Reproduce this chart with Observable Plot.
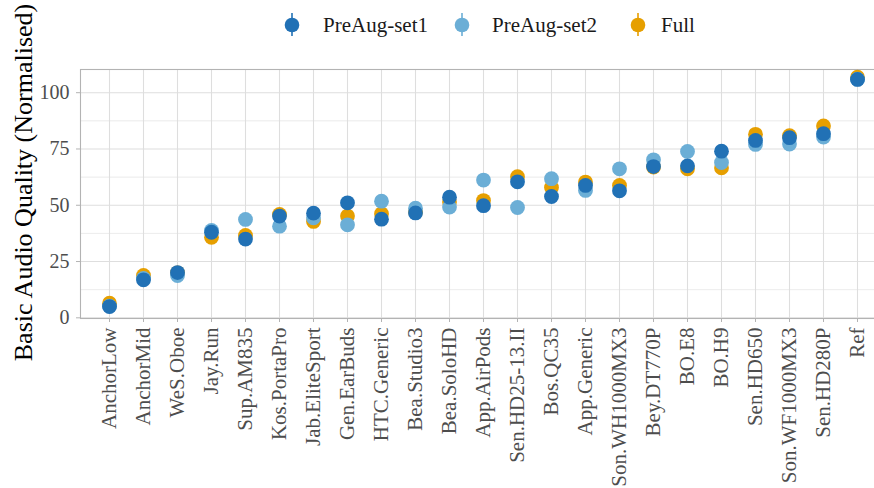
<!DOCTYPE html>
<html>
<head>
<meta charset="utf-8">
<script src="https://cdn.jsdelivr.net/npm/d3@7"></script>
<script src="https://cdn.jsdelivr.net/npm/@observablehq/plot@0.6"></script>
<style>
  html, body { margin: 0; padding: 0; background: #fff; overflow: hidden; }
  #wrap { position: relative; width: 874px; height: 488px; font-family: "Liberation Serif", "DejaVu Serif", serif; }
  #legend { position: absolute; left: 0; top: 0; width: 874px; height: 50px; z-index: 2; }
  .item { position: absolute; top: 0; height: 50px; display: block; }
  .lab { position: absolute; top: 11px; font-size: 21px; color: #1a1a1a; white-space: nowrap; line-height: 28px; }
  #chart svg { display: block; overflow: hidden; font-family: "Liberation Serif", "DejaVu Serif", serif !important; }
  #chart svg text { font-family: "Liberation Serif", "DejaVu Serif", serif !important; }
  #chart svg g[aria-label="x-axis tick label"] { font-size: 21px !important; }
  #chart svg g[aria-label="y-axis tick label"] { font-size: 20px !important; }
</style>
</head>
<body>
<div id="wrap">
  <div id="chart"></div>
  <div id="legend"></div>
</div>
<script>
const categories = ["AnchorLow","AnchorMid","WeS.Oboe","Jay.Run","Sup.AM835","Kos.PortaPro","Jab.EliteSport","Gen.EarBuds","HTC.Generic","Bea.Studio3","Bea.SoloHD","App.AirPods","Sen.HD25-13.II","Bos.QC35","App.Generic","Son.WH1000MX3","Bey.DT770P","BO.E8","BO.H9","Sen.HD650","Son.WF1000MX3","Sen.HD280P","Ref"];
const preAugSet1 = [5.0, 16.9, 20.1, 38.0, 35.0, 45.2, 46.5, 51.1, 43.8, 46.6, 53.6, 49.8, 60.4, 53.9, 58.8, 56.4, 67.2, 67.5, 74.0, 78.8, 80.0, 81.8, 105.9];
const preAugSet2 = [5.2, 17.5, 18.8, 38.8, 43.7, 40.7, 44.4, 41.3, 51.8, 48.7, 49.2, 61.2, 49.0, 61.8, 56.6, 66.2, 70.2, 73.9, 69.0, 77.0, 77.2, 80.3, 106.0];
const full = [6.5, 18.8, 20.0, 35.8, 36.6, 45.9, 42.8, 45.2, 46.2, 47.0, 51.4, 52.1, 62.7, 57.9, 60.3, 58.8, 67.0, 66.2, 66.6, 81.5, 80.9, 85.2, 106.9];
const seriesNames = ["PreAug-set1", "PreAug-set2", "Full"];
const seriesColors = ["#2171b5", "#6baed6", "#e69f00"];
const yTicks = [0, 25, 50, 75, 100];
const yMinor = [12.5, 37.5, 62.5, 87.5];
const yTitle = "Basic Audio Quality (Normalised)";

// draw order: Full, PreAug-set2, PreAug-set1 (on top)
const rows = [];
[[full, "Full"], [preAugSet2, "PreAug-set2"], [preAugSet1, "PreAug-set1"]].forEach(([vals, name]) => {
  vals.forEach((v, i) => rows.push({cat: categories[i], value: v, series: name}));
});

const font = '"Liberation Serif", "DejaVu Serif", serif';
const W = 874, ML = 80, MR = -22, MT = 69, MB = 170, H = 488;
const frameCx = ML + (W - MR - ML) / 2;
const frameCy = MT + (H - MB - MT) / 2;

const chart = Plot.plot({
  width: W,
  height: H,
  marginLeft: ML,
  marginRight: MR,
  marginTop: MT,
  marginBottom: MB,
  style: "font-family: " + font + "; background: #fff; overflow: hidden;",
  x: { type: "point", domain: categories, range: [100, 865], padding: 0, label: null },
  y: { domain: [-0.3, 110.3], label: null },
  color: { domain: seriesNames, range: seriesColors },
  marks: [
    Plot.ruleY(yMinor, { stroke: "#dedede", strokeWidth: 0.6 }),
    Plot.ruleY(yTicks, { stroke: "#dedede", strokeWidth: 1.1 }),
    Plot.ruleX(categories, { x: d => d, stroke: "#dedede", strokeWidth: 1.1 }),
    Plot.frame({ stroke: "#b3b3b3", strokeWidth: 1.1 }),
    Plot.axisY(yTicks, { tickSize: 4, tickPadding: 7, fontSize: 20, fontFamily: font, color: "#4d4d4d", stroke: "#b3b3b3", label: null }),
    Plot.axisX(categories, { tickSize: 4, tickPadding: 5, tickRotate: -90, fontSize: 21, fontFamily: font, color: "#4d4d4d", stroke: "#b3b3b3", label: null }),
    Plot.dot(rows, { x: "cat", y: "value", fill: "series", r: 7.4, stroke: null }),
    Plot.text([yTitle], { frameAnchor: "middle", dx: 23 - frameCx, dy: 182 - frameCy, text: d => d, rotate: -90, fontSize: 26, fill: "#000", fontFamily: font })
  ]
});
document.getElementById("chart").appendChild(chart);

// legend
const legend = document.getElementById("legend");
const dotX = [292, 462, 638];
const textX = [323, 492, 661];
seriesNames.forEach((name, i) => {
  const ns = "http://www.w3.org/2000/svg";
  const svg = document.createElementNS(ns, "svg");
  svg.setAttribute("width", 20);
  svg.setAttribute("height", 50);
  svg.setAttribute("class", "item");
  svg.style.left = (dotX[i] - 10) + "px";
  const line = document.createElementNS(ns, "line");
  line.setAttribute("x1", 10); line.setAttribute("x2", 10);
  line.setAttribute("y1", 13); line.setAttribute("y2", 36);
  line.setAttribute("stroke", seriesColors[i]); line.setAttribute("stroke-width", 1.6);
  const c = document.createElementNS(ns, "circle");
  c.setAttribute("cx", 10); c.setAttribute("cy", 25); c.setAttribute("r", 7.3);
  c.setAttribute("fill", seriesColors[i]);
  svg.appendChild(line); svg.appendChild(c);
  legend.appendChild(svg);
  const t = document.createElement("div");
  t.className = "lab";
  t.style.left = textX[i] + "px";
  t.textContent = name;
  legend.appendChild(t);
});
</script>
</body>
</html>
